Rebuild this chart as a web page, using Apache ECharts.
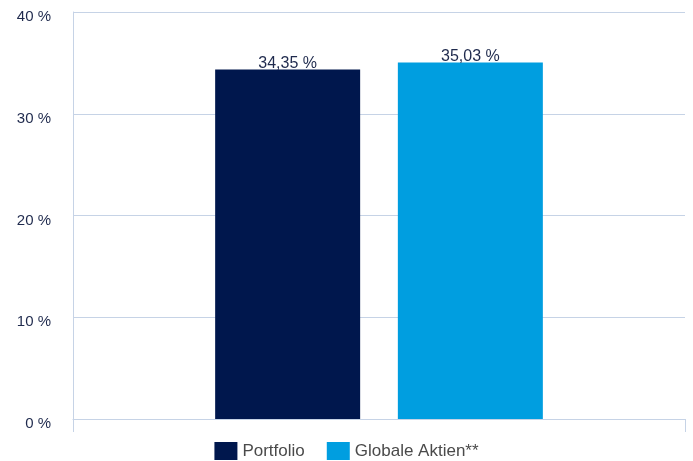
<!DOCTYPE html>
<html>
<head>
<meta charset="utf-8">
<script src="https://cdn.jsdelivr.net/npm/echarts@6/dist/echarts.min.js"></script>
<style>
  html, body { margin: 0; padding: 0; background: #fff; }
  #chart { width: 693px; height: 461px; }
</style>
</head>
<body>
<div id="chart"></div>
<script>
// Return comparison: portfolio vs. global equities
const categories = ['Rendite'];
const seriesNames = ['Portfolio', 'Globale Aktien**'];
const portfolioValues = [34.35];
const globalEquityValues = [35.03];
const seriesColors = ['#00174d', '#009ee0'];

const fmt = v => v.toFixed(2).replace('.', ',') + ' %';
const font = '"Liberation Sans", Arial, sans-serif';

const chart = echarts.init(document.getElementById('chart'), null, { renderer: 'canvas' });

function barSeries(name, values, color) {
  return {
    name: name,
    type: 'bar',
    data: values,
    barWidth: 145,
    barGap: '26%',
    itemStyle: { color: color },
    label: {
      show: true,
      position: 'top',
      distance: -2,
      color: '#1f2a4d',
      fontFamily: font,
      fontSize: 16,
      formatter: p => fmt(p.value)
    }
  };
}

chart.setOption({
  animation: false,
  textStyle: { fontFamily: font },
  grid: { left: 73, right: 8, top: 12, bottom: 42, containLabel: false },
  legend: {
    top: 437,
    left: 'center',
    icon: 'rect',
    itemWidth: 23,
    itemHeight: 18,
    itemGap: 22,
    textStyle: { color: '#4a4a4a', fontSize: 17, fontFamily: font },
    data: seriesNames
  },
  xAxis: {
    type: 'category',
    data: categories,
    axisLine: { show: true, lineStyle: { color: '#c6d3e6', width: 1 } },
    axisTick: { show: true, length: 13, lineStyle: { color: '#c6d3e6' } },
    axisLabel: { show: false }
  },
  yAxis: {
    type: 'value',
    min: 0,
    max: 40,
    interval: 10,
    axisLine: { show: true, lineStyle: { color: '#c6d3e6', width: 1 } },
    axisTick: { show: false },
    splitLine: { show: true, lineStyle: { color: '#c6d3e6', width: 1 } },
    axisLabel: {
      margin: 22,
      formatter: v => '{t|' + v + ' %}',
      rich: {
        t: {
          color: '#1f2a4d',
          fontSize: 15,
          fontFamily: font,
          padding: [10, 0, 0, 0]
        }
      }
    }
  },
  series: [
    barSeries(seriesNames[0], portfolioValues, seriesColors[0]),
    barSeries(seriesNames[1], globalEquityValues, seriesColors[1])
  ]
});
</script>
</body>
</html>
